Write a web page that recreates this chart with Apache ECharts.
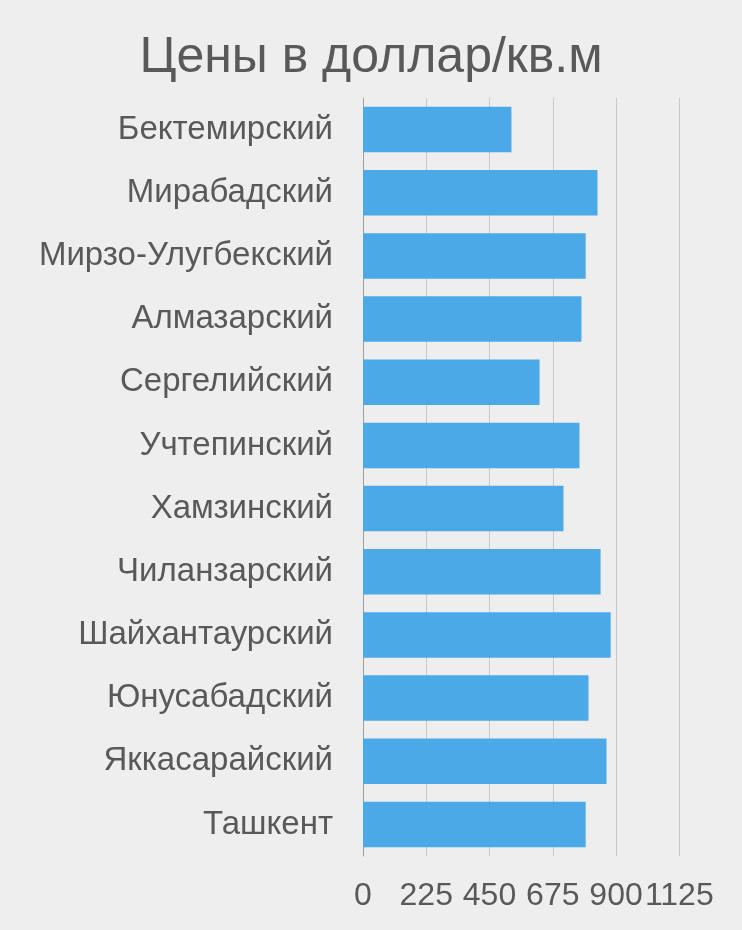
<!DOCTYPE html>
<html><head><meta charset="utf-8">
<script src="https://cdn.jsdelivr.net/npm/echarts@6/dist/echarts.min.js"></script>
<style>html,body{margin:0;padding:0;background:#eeeeee;}#c{width:742px;height:930px;}</style>
</head><body><div id="c"></div>
<script>
const categories = ["Бектемирский","Мирабадский","Мирзо-Улугбекский","Алмазарский","Сергелийский","Учтепинский","Хамзинский","Чиланзарский","Шайхантаурский","Юнусабадский","Яккасарайский","Ташкент"];
const prices = [528, 834, 792, 777, 628, 770, 713, 845, 881, 802, 866, 792];
const axisTicks = [0, 225, 450, 675, 900, 1125];

const chart = echarts.init(document.getElementById('c'));
chart.setOption({
  backgroundColor: '#eeeeee',
  animation: false,
  title: {
    text: 'Цены в доллар/кв.м', left: 'center', top: 28,
    textStyle: { fontFamily: 'Liberation Sans', fontSize: 50, fontWeight: 'normal', color: '#595959' }
  },
  grid: { left: 363, right: 62.7, top: 98, bottom: 74, containLabel: false },
  xAxis: {
    type: 'value', min: axisTicks[0], max: axisTicks[axisTicks.length-1], interval: axisTicks[1]-axisTicks[0],
    axisLine: { show: false }, axisTick: { show: false },
    splitLine: { show: true, lineStyle: { color: '#c8c8c8', width: 1 } },
    axisLabel: { fontFamily: 'Liberation Sans', fontSize: 32, color: '#595959', margin: 24,
      showMaxLabel: true, showMinLabel: true, hideOverlap: false,
      formatter: v => String(v) }
  },
  yAxis: {
    type: 'category', data: categories, inverse: true,
    axisLine: { show: true, lineStyle: { color: '#a0a0a0', width: 1 } },
    axisTick: { show: false },
    axisLabel: { fontFamily: 'Liberation Sans', fontSize: 33, color: '#595959', margin: 30 }
  },
  series: [{
    type: 'bar', data: prices, barCategoryGap: '28%',
    itemStyle: { color: '#4ba9e8' }
  }]
});
</script></body></html>
